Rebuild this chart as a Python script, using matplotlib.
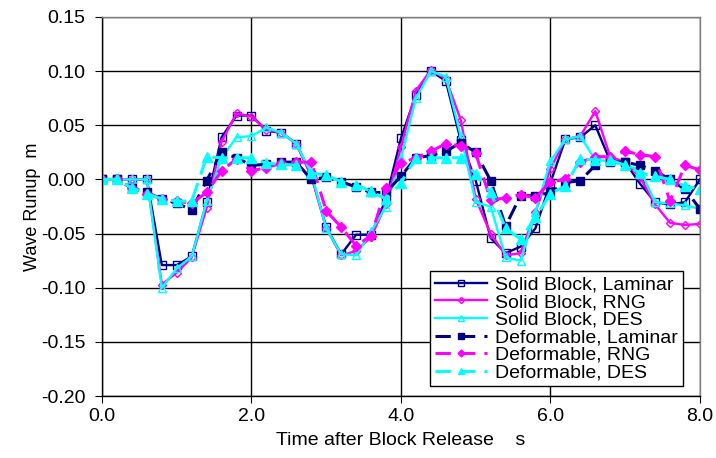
import numpy as np
import matplotlib
matplotlib.use("Agg")
import matplotlib.pyplot as plt

plt.rcParams['font.family'] = ['Liberation Sans', 'DejaVu Sans']

# time after block release (s)
t = np.round(np.arange(0, 8.01, 0.2), 1)

solid_laminar = [0, 0, 0, 0, -0.079, -0.079, -0.071, -0.021,
                 0.039, 0.059, 0.059, 0.045, 0.043, 0.033,
                 0.004, -0.044, -0.069, -0.051, -0.051, -0.018,
                 0.038, 0.078, 0.100, 0.091, 0.036, -0.001,
                 -0.054, -0.068, -0.062, -0.045, -0.003, 0.037,
                 0.039, 0.050, 0.017, 0.016, -0.004, -0.021,
                 -0.023, -0.021, 0.000]
solid_rng = [0, 0, 0, 0, -0.097, -0.086, -0.072, -0.026,
             0.035, 0.061, 0.058, 0.046, 0.043, 0.033,
             0.003, -0.045, -0.070, -0.066, -0.053, -0.023,
             0.030, 0.082, 0.101, 0.093, 0.055, -0.018,
             -0.050, -0.070, -0.068, -0.030, 0.010, 0.037,
             0.040, 0.063, 0.021, 0.016, 0.002, -0.023,
             -0.040, -0.042, -0.041]
solid_des = [0, 0, 0, 0, -0.100, -0.082, -0.071, -0.020,
             0.020, 0.039, 0.040, 0.048, 0.043, 0.033,
             0.006, -0.045, -0.069, -0.070, -0.048, -0.025,
             0.020, 0.075, 0.100, 0.095, 0.040, -0.021,
             -0.025, -0.072, -0.075, -0.030, 0.017, 0.037,
             0.040, 0.018, 0.017, 0.013, 0.009, -0.021,
             -0.022, -0.024, -0.027]
deform_laminar = [0, 0, -0.008, -0.012, -0.018, -0.022, -0.028, -0.001,
                  0.025, 0.020, 0.013, 0.014, 0.016, 0.016,
                  0.000, 0.002, -0.002, -0.007, -0.012, -0.012,
                  0.003, 0.020, 0.022, 0.026, 0.034, 0.025,
                  -0.001, -0.043, -0.015, -0.015, -0.012, -0.003,
                  -0.001, 0.013, 0.016, 0.016, 0.013, 0.008,
                  0.000, -0.009, -0.027]
deform_rng = [0, 0, -0.008, -0.013, -0.018, -0.020, -0.022, -0.012,
              0.008, 0.019, 0.008, 0.011, 0.015, 0.016,
              0.016, -0.029, -0.044, -0.061, -0.052, -0.008,
              0.015, 0.020, 0.026, 0.033, 0.031, 0.024,
              -0.019, -0.017, -0.014, -0.017, -0.002, 0.000,
              0.016, 0.021, 0.021, 0.026, 0.023, 0.021,
              -0.020, 0.013, 0.009]
deform_des = [0, 0, -0.008, -0.013, -0.018, -0.020, -0.020, 0.021,
              0.020, 0.020, 0.020, 0.015, 0.014, 0.013,
              0.006, 0.004, -0.002, -0.005, -0.011, -0.018,
              -0.003, 0.020, 0.020, 0.020, 0.020, 0.005,
              -0.012, -0.045, -0.055, -0.035, -0.013, -0.006,
              0.019, 0.018, 0.018, 0.013, 0.006, 0.003,
              0.000, -0.006, -0.009]

xticks = [0, 2, 4, 6, 8]
yticks = [-0.20, -0.15, -0.10, -0.05, 0.00, 0.05, 0.10, 0.15]

navy = '#000080'
mag = '#FF00FF'
cyan = '#00FFFF'
fs = 14

fig = plt.figure(figsize=(7.16, 4.58), dpi=100)
ax = fig.add_axes([0.1425, 0.135, 0.835, 0.828])

ax.plot(t, solid_laminar, color=navy, lw=1.7, marker='s', ms=5.5, mfc='none', mec=navy, mew=1.0,
        label='Solid Block, Laminar')
ax.plot(t, solid_rng, color=mag, lw=1.7, marker='D', ms=4.5, mfc='none', mec=mag, mew=1.0,
        label='Solid Block, RNG')
ax.plot(t, solid_des, color=cyan, lw=1.7, marker='^', ms=6, mfc='none', mec=cyan, mew=1.0,
        label='Solid Block, DES')
ax.plot(t, deform_laminar, color=navy, lw=2.2, ls=(0, (5, 3)), marker='s', ms=6,
        mfc=navy, mec=navy, label='Deformable, Laminar')
ax.plot(t, deform_rng, color=mag, lw=2.2, ls=(0, (5, 3)), marker='D', ms=5,
        mfc=mag, mec=mag, label='Deformable, RNG')
ax.plot(t, deform_des, color=cyan, lw=2.2, ls=(0, (5, 3)), marker='^', ms=6.5,
        mfc=cyan, mec=cyan, label='Deformable, DES')

ax.set_xlim(0, 8)
ax.set_ylim(-0.20, 0.15)
ax.set_xticks(xticks)
ax.set_xticklabels(['%.1f' % v for v in xticks])
ax.set_yticks(yticks)
ax.set_yticklabels(['%.2f' % v for v in yticks])
ax.tick_params(labelsize=fs, direction='out', length=5, color='black')
ax.tick_params(axis='y', pad=7)
ax.grid(True, color='black', lw=1.0)
ax.set_axisbelow(True)
for s in ax.spines.values():
    s.set_color('#808080')
    s.set_linewidth(1.0)
ax.spines['left'].set_color('black')
ax.spines['bottom'].set_color('black')

ax.set_xlabel('Time after Block Release    s', fontsize=fs, labelpad=5)
ax.set_ylabel('Wave Runup  m', fontsize=13, labelpad=0)

leg = ax.legend(loc='lower right', bbox_to_anchor=(0.988, 0.0), fontsize=fs, frameon=True,
                fancybox=False, edgecolor='black', framealpha=1, handlelength=2.7,
                borderpad=0.25, labelspacing=0.0, handletextpad=0.4, markerscale=0.7)
leg.get_frame().set_linewidth(1.0)

fig.savefig('out.png', dpi=100)
